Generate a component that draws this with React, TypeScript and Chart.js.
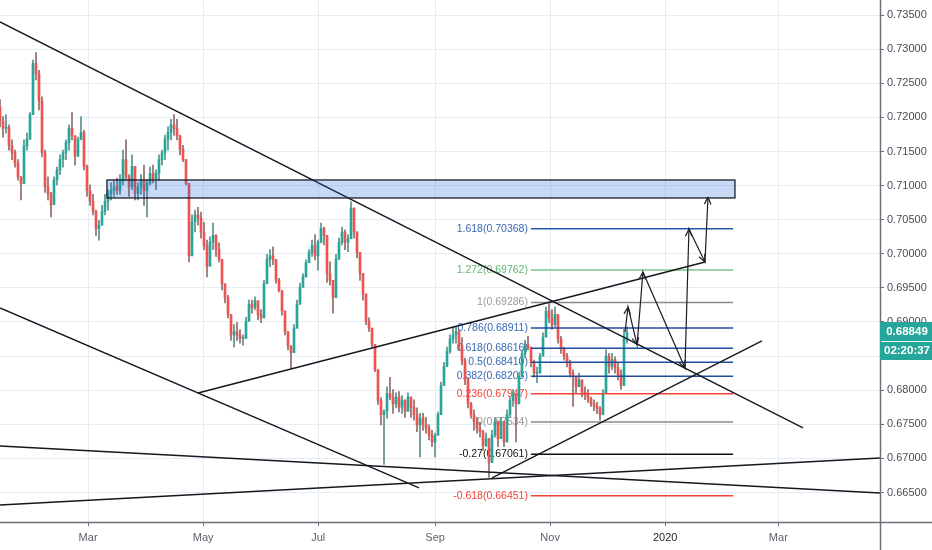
import React, { useEffect, useRef } from 'react';
import { Chart, registerables } from 'chart.js';

Chart.register(...registerables);

// ---- axis ticks ----
const monthTickDays = [59, 120, 181, 243, 304, 365, 425]; // days since 1 Jan 2019
const monthTickLabels = ['Mar', 'May', 'Jul', 'Sep', 'Nov', '2020', 'Mar'];
const priceTicks = [0.665, 0.67, 0.675, 0.68, 0.685, 0.69, 0.695, 0.7, 0.705, 0.71, 0.715, 0.72, 0.725, 0.73, 0.735];
const dayMin = 12.3;
const dayMax = 478.9;
const priceMin = 0.66067;
const priceMax = 0.73721;

// ---- candles (values in pips, 1e-4) ----
const firstBarDay = 12.3;
const barStepDays = 1.5907;
const firstOpen = 7215;
const highsPips = [
  7226, 7201, 7204, 7189, 7167, 7152, 7138, 7113, 7167, 7177, 7207, 7284, 7295, 7269, 7230, 7152, 7113, 7090, 7113, 7127,
  7145, 7152, 7167, 7189, 7207, 7159, 7171, 7201, 7181, 7130, 7101, 7087, 7064, 7049, 7071, 7087, 7094, 7104, 7108, 7111,
  7116, 7152, 7167, 7116, 7145, 7108, 7104, 7116, 7130, 7108, 7127, 7130, 7123, 7145, 7152, 7174, 7186, 7197, 7204, 7197,
  7174, 7159, 7138,
  7101, 7057, 7064, 7068, 7061, 7046, 7020, 7025, 7045, 7028, 7016, 6984, 6954, 6939, 6910, 6896, 6899, 6889, 6881, 6907,
  6932, 6932, 6937, 6925, 6918, 6961, 6999, 7006, 7010, 6984, 6964, 6944, 6915, 6884, 6863, 6896, 6932, 6957, 6971, 6991,
  7006, 7020, 7028, 7020, 7045, 7039, 7020, 6988, 6947, 6999, 7023, 7039, 7035, 7028, 7076, 7064, 7028, 6999, 6964, 6925,
  6906, 6889, 6866, 6822, 6789, 6771, 6805, 6819, 6801, 6796, 6798, 6792, 6786, 6796, 6786, 6786, 6774, 6766, 6766, 6760,
  6749, 6741, 6737, 6768, 6812, 6841, 6863, 6881, 6893, 6893, 6889, 6877, 6847, 6818, 6782, 6771, 6760, 6753, 6741, 6737,
  6723, 6741, 6760, 6752, 6760, 6741, 6771, 6790, 6801, 6786, 6825, 6859, 6873, 6879, 6863, 6844, 6834, 6854, 6884, 6922,
  6928, 6918, 6922, 6899, 6879, 6863, 6854, 6844, 6830, 6819, 6825, 6815, 6805, 6801, 6790, 6786, 6782, 6776, 6801, 6859,
  6854, 6854, 6849, 6840, 6830, 6889, 6893,
];
const lowsPips = [
  7186, 7171, 7177, 7152, 7138, 7127, 7108, 7079, 7130, 7152, 7171, 7233, 7255, 7211, 7142, 7090, 7079, 7054, 7087, 7101,
  7116, 7127, 7138, 7152, 7167, 7130, 7145, 7167, 7123, 7084, 7071, 7057, 7027, 7020, 7042, 7057, 7064, 7079, 7084, 7087,
  7087, 7101, 7108, 7084, 7094, 7079, 7079, 7087, 7071, 7054, 7101, 7104, 7094, 7108, 7130, 7138, 7152, 7167, 7174, 7167,
  7145, 7135, 7101,
  6988, 7013, 7032, 7042, 7023, 7006, 6966, 6988, 7006, 6996, 6988, 6947, 6928, 6906, 6873, 6863, 6873, 6869, 6866, 6884,
  6910, 6913, 6918, 6903, 6899, 6932, 6973, 6981, 6984, 6957, 6944, 6910, 6881, 6859, 6832, 6866, 6903, 6935, 6954, 6968,
  6988, 6996, 6991, 6976, 7016, 7013, 6958, 6954, 6913, 6954, 6994, 7013, 7006, 7003, 7039, 7023, 6994, 6961, 6932, 6896,
  6886, 6863, 6827, 6779, 6749, 6691, 6759, 6786, 6766, 6774, 6768, 6766, 6760, 6770, 6760, 6756, 6739, 6702, 6741, 6737,
  6727, 6717, 6702, 6741, 6783, 6812, 6841, 6854, 6869, 6869, 6859, 6837, 6808, 6774, 6759, 6741, 6737, 6731, 6712, 6717,
  6672, 6702, 6731, 6717, 6737, 6717, 6741, 6760, 6776, 6724, 6796, 6830, 6848, 6859, 6834, 6819, 6811, 6830, 6854, 6889,
  6899, 6889, 6893, 6869, 6854, 6844, 6834, 6819, 6776, 6796, 6805, 6790, 6786, 6782, 6776, 6770, 6766, 6756, 6766, 6801,
  6825, 6830, 6825, 6815, 6801, 6819, 6869,
];
const closesPips = [
  7194, 7184, 7185, 7158, 7148, 7133, 7113, 7103, 7158, 7168, 7204, 7279, 7264, 7224, 7148, 7098, 7088, 7072, 7108, 7123,
  7138, 7148, 7163, 7184, 7173, 7143, 7168, 7178, 7128, 7093, 7077, 7062, 7037, 7042, 7062, 7077, 7088, 7093, 7098, 7093,
  7108, 7138, 7113, 7098, 7128, 7088, 7098, 7108, 7093, 7103, 7118, 7110, 7118, 7138, 7148, 7168, 7178, 7189, 7184, 7173,
  7153, 7138, 7103,
  6997, 7047, 7057, 7052, 7032, 7012, 6982, 7017, 7027, 7007, 6992, 6956, 6936, 6911, 6881, 6886, 6881, 6876, 6876, 6901,
  6926, 6921, 6931, 6911, 6906, 6956, 6992, 6997, 6992, 6961, 6946, 6916, 6886, 6865, 6855, 6891, 6926, 6951, 6966, 6987,
  7002, 7012, 6997, 7017, 7037, 7027, 6971, 6961, 6936, 6992, 7017, 7032, 7017, 7022, 7067, 7032, 7002, 6971, 6941, 6901,
  6891, 6867, 6830, 6785, 6764, 6769, 6795, 6790, 6780, 6790, 6775, 6785, 6769, 6790, 6775, 6764, 6749, 6759, 6749, 6744,
  6734, 6724, 6734, 6764, 6807, 6835, 6857, 6875, 6881, 6886, 6865, 6843, 6815, 6780, 6764, 6754, 6744, 6739, 6719, 6729,
  6694, 6734, 6754, 6729, 6754, 6724, 6764, 6785, 6795, 6780, 6820, 6853, 6867, 6863, 6840, 6825, 6825, 6850, 6878, 6916,
  6906, 6896, 6911, 6875, 6860, 6850, 6840, 6825, 6820, 6805, 6815, 6797, 6793, 6787, 6780, 6777, 6773, 6764, 6795, 6850,
  6835, 6845, 6833, 6823, 6807, 6875, 6884.9,
];
const countdownText = '02:20:37';

// ---- fibonacci retracement ----
const fibLevels = [1.618, 1.272, 1, 0.786, 0.618, 0.5, 0.382, 0.236, 0, -0.27, -0.618];
const fibPrices = [0.70368, 0.69762, 0.69286, 0.68911, 0.68616, 0.6841, 0.68203, 0.67947, 0.67534, 0.67061, 0.66451];
const fibLineColors = ['#2656a8', '#7cc48c', '#8a8a8a', '#1f4e9e', '#1f4e9e', '#1f4e9e', '#1f4e9e', '#f44336', '#8a8a8a', '#111111', '#f44336'];
const fibTextColors = ['#3a68b2', '#5fb872', '#9a9a9a', '#3a68b2', '#3a68b2', '#3a68b2', '#3a68b2', '#f44336', '#9a9a9a', '#111111', '#f44336'];
const fibStartDay = 293.8;
const fibEndDay = 401.0;

// ---- supply zone ----
const zoneDays = [69.0, 402.0];
const zonePrices = [0.71082, 0.70818];

// ---- trend lines: [day, price] endpoints ----
const trendLines = [
  [[12.3, 0.73399], [438.1, 0.67446]],
  [[117.3, 0.67959], [386.1, 0.6988]],
  [[12.3, 0.69205], [234.5, 0.66566]],
  [[12.3, 0.67182], [478.9, 0.66493]],
  [[12.3, 0.66317], [478.9, 0.67006]],
  [[273.2, 0.66713], [416.3, 0.68721]],
];

// ---- projected path (arrows) ----
const arrowDays = [343.7, 345.3, 350.1, 353.2, 375.5, 377.6, 386.1, 387.7];
const arrowPrices = [0.68853, 0.6922, 0.68663, 0.69733, 0.68326, 0.70364, 0.6988, 0.70833];

const FONT = '"Liberation Sans", Arial, sans-serif';
const UP = '#26a69a';
const DOWN = '#ef5350';

function buildCandles() {
  const wicks: any[] = [];
  const bodies: any[] = [];
  const bodyColors: string[] = [];
  const wickColors: string[] = [];
  let prev = firstOpen;
  for (let i = 0; i < closesPips.length; i++) {
    const o = prev;
    const c = closesPips[i];
    const hi = Math.max(highsPips[i], o, c);
    const lo = Math.min(lowsPips[i], o, c);
    const day = firstBarDay + i * barStepDays;
    wicks.push({ x: day, y: [lo / 10000, hi / 10000] });
    bodies.push({ x: day, y: [Math.min(o, c) / 10000, Math.max(o, c) / 10000] });
    const up = c >= o;
    bodyColors.push(up ? UP : DOWN);
    wickColors.push(up ? '#5b8f88' : '#8d6b6a');
    prev = c;
  }
  return { wicks, bodies, bodyColors, wickColors };
}

function arrowHead(ctx: CanvasRenderingContext2D, x0: number, y0: number, x1: number, y1: number) {
  const a = Math.atan2(y1 - y0, x1 - x0);
  const L = 8;
  const s = 0.42;
  ctx.moveTo(x1, y1);
  ctx.lineTo(x1 - L * Math.cos(a - s), y1 - L * Math.sin(a - s));
  ctx.moveTo(x1, y1);
  ctx.lineTo(x1 - L * Math.cos(a + s), y1 - L * Math.sin(a + s));
}

const overlayPlugin = {
  id: 'overlay',
  beforeDatasetsDraw(chart: any) {
    const { ctx, scales, chartArea } = chart;
    const x = scales.x;
    const y = scales.y;
    ctx.save();
    ctx.beginPath();
    ctx.rect(chartArea.left, chartArea.top, chartArea.width, chartArea.height);
    ctx.clip();
    ctx.font = `10.5px ${FONT}`;
    ctx.textAlign = 'right';
    ctx.textBaseline = 'middle';
    const lx = x.getPixelForValue(fibStartDay) - 3;
    fibLevels.forEach((lv, i) => {
      ctx.fillStyle = fibTextColors[i];
      ctx.fillText(`${lv}(${fibPrices[i].toFixed(5)})`, lx, y.getPixelForValue(fibPrices[i]));
    });
    ctx.restore();
  },
  afterDatasetsDraw(chart: any) {
    const { ctx, scales, chartArea } = chart;
    const x = scales.x;
    const y = scales.y;
    ctx.save();
    ctx.beginPath();
    ctx.rect(chartArea.left, chartArea.top, chartArea.width, chartArea.height);
    ctx.clip();
    // zone
    const zx1 = x.getPixelForValue(zoneDays[0]);
    const zx2 = x.getPixelForValue(zoneDays[1]);
    const zy1 = y.getPixelForValue(zonePrices[0]);
    const zy2 = y.getPixelForValue(zonePrices[1]);
    ctx.fillStyle = 'rgba(35,105,215,0.25)';
    ctx.fillRect(zx1, zy1, zx2 - zx1, zy2 - zy1);
    ctx.strokeStyle = '#1b1d24';
    ctx.lineWidth = 1.3;
    ctx.strokeRect(zx1, zy1, zx2 - zx1, zy2 - zy1);
    // arrow heads
    ctx.beginPath();
    for (let i = 1; i < arrowDays.length; i++) {
      arrowHead(
        ctx,
        x.getPixelForValue(arrowDays[i - 1]),
        y.getPixelForValue(arrowPrices[i - 1]),
        x.getPixelForValue(arrowDays[i]),
        y.getPixelForValue(arrowPrices[i])
      );
    }
    ctx.strokeStyle = '#1b1d24';
    ctx.lineWidth = 1.2;
    ctx.stroke();
    ctx.restore();
  },
  afterDraw(chart: any) {
    const { ctx, scales, chartArea, width, height } = chart;
    const y = scales.y;
    ctx.save();
    ctx.strokeStyle = '#6d707a';
    ctx.lineWidth = 1.5;
    ctx.beginPath();
    ctx.moveTo(0, chartArea.bottom + 0.5);
    ctx.lineTo(width, chartArea.bottom + 0.5);
    ctx.moveTo(chartArea.right + 0.5, 0);
    ctx.lineTo(chartArea.right + 0.5, height);
    ctx.stroke();
    // last price label
    const last = closesPips[closesPips.length - 1] / 10000;
    const yc = Math.round(y.getPixelForValue(last));
    const bx = chartArea.right;
    const bw = width - bx;
    ctx.fillStyle = UP;
    ctx.fillRect(bx, yc - 10, bw, 19);
    ctx.fillRect(bx, yc + 10, bw, 18);
    ctx.fillStyle = '#ffffff';
    ctx.font = `bold 11.5px ${FONT}`;
    ctx.textAlign = 'center';
    ctx.textBaseline = 'middle';
    const cx = bx + bw / 2 + 1;
    ctx.fillText(last.toFixed(5), cx, yc);
    ctx.fillText(countdownText, cx, yc + 19);
    ctx.restore();
  },
};

export default function App() {
  const ref = useRef<HTMLCanvasElement>(null);
  useEffect(() => {
    const { wicks, bodies, bodyColors, wickColors } = buildCandles();
    const lineDs: any[] = [];
    trendLines.forEach((ln) => {
      lineDs.push({
        type: 'line',
        data: ln.map((p) => ({ x: p[0], y: p[1] })),
        borderColor: '#16181f',
        borderWidth: 1.4,
        pointRadius: 0,
        order: 0,
      });
    });
    fibPrices.forEach((p, i) => {
      lineDs.push({
        type: 'line',
        data: [
          { x: fibStartDay, y: p },
          { x: fibEndDay, y: p },
        ],
        borderColor: fibLineColors[i],
        borderWidth: 1.5,
        pointRadius: 0,
        order: 1,
      });
    });
    lineDs.push({
      type: 'line',
      data: arrowDays.map((d, i) => ({ x: d, y: arrowPrices[i] })),
      borderColor: '#1b1d24',
      borderWidth: 1.2,
      pointRadius: 0,
      order: 0,
    });

    const chart = new Chart(ref.current as HTMLCanvasElement, {
      type: 'bar',
      data: {
        datasets: [
          {
            type: 'bar',
            data: wicks,
            backgroundColor: wickColors,
            barThickness: 1,
            grouped: false,
            order: 4,
          } as any,
          {
            type: 'bar',
            data: bodies,
            backgroundColor: bodyColors,
            barThickness: 2,
            minBarLength: 1,
            grouped: false,
            order: 3,
          } as any,
          ...lineDs,
        ],
      },
      options: {
        responsive: false,
        animation: false,
        layout: { padding: 0 },
        plugins: { legend: { display: false }, tooltip: { enabled: false } },
        events: [],
        scales: {
          x: {
            type: 'linear',
            min: dayMin,
            max: dayMax,
            offset: false,
            afterBuildTicks: (s: any) => {
              s.ticks = monthTickDays.map((v) => ({ value: v }));
            },
            afterFit: (s: any) => {
              s.height = 28;
              s.paddingLeft = 0;
              s.paddingRight = 0;
            },
            ticks: {
              callback: (_v: any, i: number) => monthTickLabels[i],
              color: (c: any) => (c.index === 5 ? '#23252c' : '#5d606b'),
              font: { family: FONT, size: 11 },
              padding: 5,
              maxRotation: 0,
              autoSkip: false,
            },
            grid: { color: '#e5edf4', tickColor: '#6d707a', tickLength: 4, lineWidth: 1, offset: false },
            border: { display: false },
          },
          y: {
            type: 'linear',
            position: 'right',
            min: priceMin,
            max: priceMax,
            afterBuildTicks: (s: any) => {
              s.ticks = priceTicks.map((v) => ({ value: v }));
            },
            afterFit: (s: any) => {
              s.width = 52;
              s.paddingTop = 0;
              s.paddingBottom = 0;
            },
            ticks: {
              callback: (v: any) => Number(v).toFixed(5),
              color: '#4a4c55',
              font: { family: FONT, size: 11 },
              padding: 3,
            },
            grid: { color: '#e5edf4', tickColor: '#6d707a', tickLength: 4, lineWidth: 1 },
            border: { display: false },
          },
        },
      } as any,
      plugins: [overlayPlugin],
    });
    return () => chart.destroy();
  }, []);
  return (
    <div style={{ position: 'fixed', left: 0, top: 0, width: 932, height: 550, background: '#ffffff' }}>
      <canvas ref={ref} width={932} height={550} style={{ display: 'block' }} />
    </div>
  );
}
